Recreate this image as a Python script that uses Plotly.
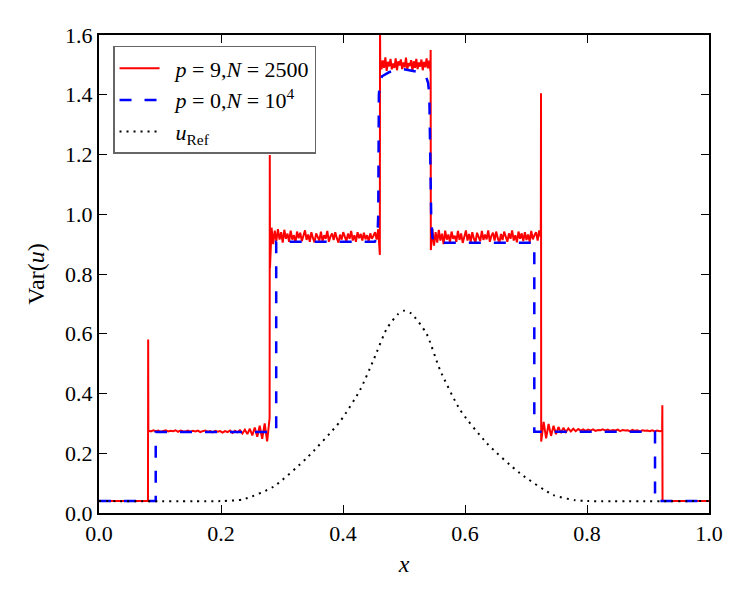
import numpy as np
import plotly.graph_objects as go

# ---------------- data ----------------
# red: p=9, N=2500 (noisy solution), built from jumps + hand-read plateau samples
red_base_left = 0.04
red_spike_1 = 0.581
red_p1 = [0.276, 0.273, 0.277, 0.274, 0.276, 0.272, 0.275, 0.277, 0.273, 0.275,
          0.274, 0.277, 0.272, 0.276, 0.274, 0.273, 0.276, 0.272, 0.275, 0.273,
          0.276, 0.271, 0.274, 0.276, 0.272, 0.274, 0.270, 0.275, 0.272, 0.274,
          0.269, 0.274, 0.271, 0.276, 0.268, 0.275, 0.270, 0.277, 0.266, 0.279,
          0.264, 0.282, 0.260, 0.286, 0.255, 0.292, 0.248, 0.300, 0.240, 0.318]
red_spike_2 = 1.198
red_p2 = [0.820, 0.955, 0.900, 0.945, 0.910, 0.950, 0.915, 0.940, 0.905, 0.948,
          0.918, 0.935, 0.908, 0.945, 0.915, 0.930, 0.905, 0.942, 0.920, 0.938,
          0.910, 0.928, 0.946, 0.914, 0.932, 0.908, 0.940, 0.920, 0.906, 0.936,
          0.925, 0.912, 0.942, 0.910, 0.930, 0.918, 0.944, 0.908, 0.926, 0.936,
          0.914, 0.940, 0.920, 0.905, 0.932, 0.915, 0.940, 0.922, 0.910, 0.935,
          0.918, 0.944, 0.912, 0.930, 0.908, 0.940, 0.920, 0.934, 0.912, 0.938,
          0.916, 0.930, 0.910, 0.936, 0.918, 0.928, 0.940, 0.915, 0.950, 0.864]
red_spike_3 = 1.64
red_p3 = [1.520, 1.485, 1.515, 1.490, 1.525, 1.480, 1.510, 1.495, 1.520, 1.485,
          1.505, 1.490, 1.522, 1.482, 1.512, 1.498, 1.518, 1.486, 1.508, 1.492,
          1.524, 1.484, 1.506, 1.496, 1.516, 1.480, 1.512, 1.490, 1.520, 1.486,
          1.508, 1.494, 1.518, 1.482, 1.510, 1.492, 1.522, 1.488, 1.514, 1.478]
red_spike_4 = 1.55
red_p4 = [0.880, 0.950, 0.895, 0.940, 0.905, 0.948, 0.912, 0.935, 0.900, 0.945,
          0.915, 0.932, 0.906, 0.942, 0.918, 0.928, 0.908, 0.944, 0.914, 0.936,
          0.904, 0.930, 0.946, 0.912, 0.934, 0.908, 0.940, 0.918, 0.906, 0.938,
          0.922, 0.910, 0.944, 0.914, 0.932, 0.916, 0.946, 0.908, 0.928, 0.938,
          0.912, 0.942, 0.920, 0.904, 0.934, 0.914, 0.942, 0.924, 0.908, 0.936,
          0.918, 0.946, 0.912, 0.930, 0.906, 0.942, 0.918, 0.936, 0.910, 0.940,
          0.914, 0.932, 0.908, 0.944, 0.916, 0.930, 0.940, 0.912, 0.946, 0.925]
red_spike_5 = 1.405
red_p5 = [0.239, 0.305, 0.250, 0.298, 0.258, 0.292, 0.264, 0.288, 0.268, 0.285,
          0.271, 0.283, 0.273, 0.282, 0.274, 0.281, 0.276, 0.280, 0.275, 0.279,
          0.276, 0.280, 0.275, 0.278, 0.277, 0.280, 0.276, 0.279, 0.275, 0.278,
          0.276, 0.279, 0.274, 0.278, 0.276, 0.277, 0.274, 0.278, 0.275, 0.277,
          0.273, 0.277, 0.275, 0.276, 0.274, 0.277, 0.273, 0.276, 0.274, 0.275]
red_spike_6 = 0.361
red_base_right = 0.04

# x-extent of each red piece (jump locations)
red_jumps = [0.0806, 0.2800, 0.4607, 0.5437, 0.7246, 0.9235]

# blue: p=0, N=10^4 (step profile, rounded top)
blue_x = [0.0, 0.093, 0.093, 0.2905, 0.2905, 0.452, 0.4565, 0.4578, 0.4588,
          0.4605, 0.464, 0.476, 0.500, 0.524, 0.536, 0.5395, 0.5415, 0.5445,
          0.5465, 0.550, 0.7136, 0.7136, 0.9115, 0.9115, 1.0]
blue_y = [0.04, 0.04, 0.271, 0.271, 0.908, 0.908, 0.922, 1.00, 1.40,
          1.44, 1.462, 1.476, 1.485, 1.476, 1.462, 1.44, 1.40, 1.00,
          0.922, 0.905, 0.905, 0.272, 0.272, 0.04, 0.04]

# black dotted: u_Ref
ref_x = [0.0, 0.20, 0.237, 0.286, 0.340, 0.395, 0.428, 0.450, 0.472, 0.490,
         0.500, 0.512, 0.537, 0.559, 0.592, 0.636, 0.690, 0.745, 0.780, 0.800, 1.0]
ref_y = [0.04, 0.04, 0.046, 0.088, 0.183, 0.306, 0.412, 0.512, 0.618, 0.665,
         0.677, 0.668, 0.600, 0.479, 0.345, 0.233, 0.133, 0.060, 0.043, 0.040, 0.04]

x_ticks = [0.0, 0.2, 0.4, 0.6, 0.8, 1.0]
y_ticks = [0.0, 0.2, 0.4, 0.6, 0.8, 1.0, 1.2, 1.4, 1.6]

# ---------------- assemble red series ----------------
eps = 0.0003
rx, ry = [0.0, red_jumps[0] - eps], [red_base_left, red_base_left]
plateaus = [red_p1, red_p2, red_p3, red_p4, red_p5]
spikes = [red_spike_1, red_spike_2, red_spike_3, red_spike_4, red_spike_5]
for i, (pl, sp) in enumerate(zip(plateaus, spikes)):
    j0, j1 = red_jumps[i], red_jumps[i + 1]
    rx.append(j0); ry.append(sp)
    xs = np.linspace(j0 + eps, j1 - eps, len(pl))
    rx.extend(xs.tolist()); ry.extend(pl)
rx.append(red_jumps[-1]); ry.append(red_spike_6)
rx.extend([red_jumps[-1] + eps, 1.0]); ry.extend([red_base_right, red_base_right])

FONT = "Liberation Serif"

fig = go.Figure()
fig.add_trace(go.Scatter(x=rx, y=ry, mode="lines", legendgroup="a",
                         line=dict(color="#ff0000", width=2),
                         name="&nbsp;&nbsp;<i>p</i> = 9,<i>N</i> = 2500"))
fig.add_trace(go.Scatter(x=blue_x, y=blue_y, mode="lines", legendgroup="b",
                         line=dict(color="#0000ff", width=2.5, dash="12px,13px"),
                         name="&nbsp;&nbsp;<i>p</i> = 0,<i>N</i> = 10<sup>4</sup>"))
fig.add_trace(go.Scatter(x=ref_x, y=ref_y, mode="lines", legendgroup="c",
                         line=dict(color="#000000", width=2, dash="2px,5px",
                                   shape="spline", smoothing=0.6),
                         name="&nbsp;&nbsp;<i>u</i><sub>Ref</sub>"))

axis_common = dict(showline=True, linewidth=2, linecolor="black", mirror="ticks",
                   ticks="inside", ticklen=8, tickwidth=1, tickcolor="black",
                   showgrid=False, zeroline=False,
                   tickfont=dict(family=FONT, size=22, color="black"))

fig.update_layout(
    width=750, height=600,
    margin=dict(l=99, r=41, t=35, b=87),
    paper_bgcolor="white", plot_bgcolor="white",
    font=dict(family=FONT, color="black"),
    xaxis=dict(range=[0, 1], tickvals=x_ticks,
               ticktext=[f"{v:.1f}" for v in x_ticks],
               title=dict(text="<i>x</i>", font=dict(family=FONT, size=24), standoff=10),
               **axis_common),
    yaxis=dict(range=[0, 1.6], tickvals=y_ticks,
               ticktext=[f"{v:.1f}" for v in y_ticks],
               title=dict(text="Var(<i>u</i>)", font=dict(family=FONT, size=24), standoff=14),
               **axis_common),
    legend=dict(x=0.023, y=0.977, xanchor="left", yanchor="top",
                bgcolor="white", bordercolor="#666666", borderwidth=1.5,
                font=dict(family=FONT, size=22, color="black"),
                tracegroupgap=0, itemwidth=40),
    showlegend=True,
)

fig.write_html("out.html")
